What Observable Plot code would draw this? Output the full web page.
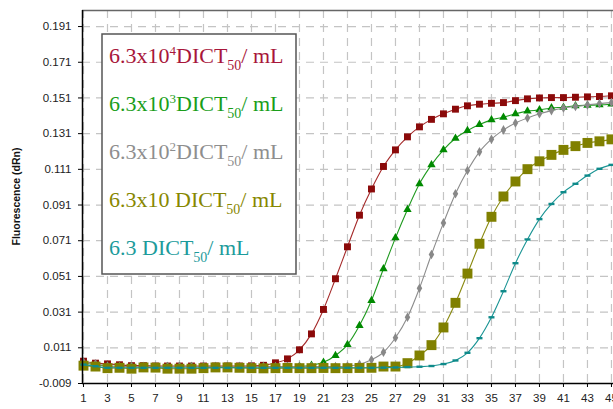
<!DOCTYPE html>
<html>
<head>
<meta charset="utf-8">
<script src="https://cdn.jsdelivr.net/npm/d3@7"></script>
<script src="https://cdn.jsdelivr.net/npm/@observablehq/plot@0.6"></script>
<style>
  body { margin: 0; background: #fff; }
  #wrap { position: relative; width: 613px; height: 409px; overflow: hidden; }
</style>
</head>
<body>
<div id="wrap"></div>
<script>
// ---- data ----
const cycles = d3.range(1, 46);
const red = [0.0035,0.0024,0.0020,0.0015,0.0010,0.0010,0.0008,0.0008,0.0008,0.0008,0.0008,0.0008,0.0008,0.0008,0.0009,0.0012,0.0026,0.0048,0.0099,0.0188,0.0325,0.0497,0.0676,0.0853,0.1000,0.1126,0.1219,0.1292,0.1348,0.1390,0.1421,0.1447,0.1466,0.1475,0.1480,0.1484,0.1495,0.1505,0.1510,0.1512,0.1512,0.1514,0.1516,0.1518,0.1522];
const green = [0.0025,0.0015,0.0008,0.0006,0.0005,0.0005,0.0005,0.0005,0.0005,0.0005,0.0005,0.0005,0.0005,0.0005,0.0005,0.0005,0.0005,0.0005,0.0006,0.0012,0.0029,0.0067,0.0128,0.0235,0.0375,0.0553,0.0726,0.0885,0.1029,0.1135,0.1219,0.1284,0.1327,0.1361,0.1387,0.1402,0.1421,0.1436,0.1443,0.1454,0.1458,0.1466,0.1469,0.1471,0.1475];
const gray = [0.0030,0.0020,0.0008,0.0005,0.0005,0.0005,0.0005,0.0005,0.0005,0.0005,0.0005,0.0005,0.0005,0.0005,0.0005,0.0005,0.0005,0.0005,0.0005,0.0005,0.0005,0.0005,0.0008,0.0018,0.0043,0.0085,0.0166,0.0281,0.0444,0.0633,0.0810,0.0973,0.1103,0.1208,0.1279,0.1331,0.1370,0.1398,0.1421,0.1439,0.1454,0.1462,0.1471,0.1479,0.1484];
const olive = [0.0010,0.0005,-0.0004,-0.0002,-0.0007,0.0000,-0.0001,-0.0007,-0.0007,-0.0007,-0.0004,0.0000,0.0000,-0.0002,-0.0004,-0.0005,-0.0004,-0.0003,-0.0004,-0.0004,-0.0003,-0.0004,-0.0004,-0.0003,-0.0002,0.0005,0.0005,0.0024,0.0067,0.0125,0.0224,0.0362,0.0526,0.0693,0.0844,0.0958,0.1042,0.1111,0.1155,0.1191,0.1219,0.1240,0.1258,0.1267,0.1278];
const teal = [0.0016,0.0007,-0.0002,-0.0002,-0.0002,-0.0002,-0.0002,-0.0002,-0.0002,-0.0002,-0.0002,-0.0002,-0.0002,-0.0002,-0.0002,-0.0002,-0.0002,-0.0002,-0.0002,-0.0002,-0.0002,-0.0002,-0.0002,-0.0002,-0.0002,-0.0001,0.0000,0.0002,0.0004,0.0008,0.0019,0.0039,0.0082,0.0164,0.0281,0.0427,0.0584,0.0717,0.0831,0.0916,0.0982,0.1029,0.1075,0.1113,0.1135];

const xTicks = d3.range(1, 46, 2);
const yTicks = [-0.009, 0.011, 0.031, 0.051, 0.071, 0.091, 0.111, 0.131, 0.151, 0.171, 0.191];
const xDomain = [0.917, 45.17];
const yDomain = [-0.009, 0.2];
const yTitle = "Fluorescence (dRn)";

const legendMain = ["6.3x10", "6.3x10", "6.3x10", "6.3x10 ", "6.3 "];
const legendExp = ["4", "3", "2", "", ""];
const legendColors = ["#a8163a", "#1a9e1a", "#8e8e8e", "#878700", "#1c9b9b"];

// ---- styling ----
const W = 613, H = 409, mL = 82, mT = 10, mB = 26;
const tealBar = { draw(ctx) { ctx.rect(-3, -1.2, 6, 2.4); } };
const seriesDefs = [
  { values: red,   color: "#8b0a0a", line: "#a52a2a", symbol: "square",   r: 3.9 },
  { values: green, color: "#008a00", line: "#1f9a1f", symbol: "triangle", r: 3.1 },
  { values: gray,  color: "#888888", line: "#8c8c8c", symbol: "diamond",  r: 2.9 },
  { values: olive, color: "#808000", line: "#8a8a10", symbol: "square",   r: 5.6 },
  { values: teal,  color: "#0e8a8a", line: "#1a9494", symbol: tealBar,    r: 3 }
];

const marks = [
  Plot.gridX(xTicks, { stroke: "#c4c4c4", strokeOpacity: 1, strokeWidth: 1.2, strokeDasharray: "8,6" }),
  Plot.gridY(yTicks, { stroke: "#c4c4c4", strokeOpacity: 1, strokeWidth: 1.2, strokeDasharray: "8,6" }),
  Plot.ruleY([yDomain[1]], { stroke: "#666", strokeWidth: 1.5 }),
  Plot.axisX(xTicks, { tickSize: 4, tickPadding: 6, fontSize: 11.5, label: null, stroke: "#000", fill: "#222" }),
  Plot.axisY(yTicks, { tickSize: 4, tickPadding: 7, fontSize: 11.5, label: null, tickFormat: d => d.toFixed(3), stroke: "#000", fill: "#222" })
];

for (const s of seriesDefs) {
  const data = cycles.map((c, i) => ({ c, v: s.values[i] }));
  marks.push(Plot.line(data, { x: "c", y: "v", stroke: s.line, strokeWidth: 1.1, curve: "monotone-x" }));
  marks.push(Plot.dot(data, { x: "c", y: "v", symbol: s.symbol, r: s.r, fill: s.color, stroke: "none" }));
}
marks.push(Plot.ruleX([xDomain[0]], { stroke: "#000", strokeWidth: 1.5 }));
marks.push(Plot.ruleY([yDomain[0]], { stroke: "#000", strokeWidth: 1.5 }));

const chart = Plot.plot({
  width: W,
  height: H,
  marginLeft: mL,
  marginRight: 0,
  marginTop: mT,
  marginBottom: mB,
  x: { domain: xDomain },
  y: { domain: yDomain },
  style: { fontFamily: "'Liberation Sans', Arial, sans-serif", fontSize: "11px", color: "#222", background: "#fff" },
  marks
});
document.getElementById("wrap").appendChild(chart);

const svg = d3.select(chart);

// ---- y-axis title ----
svg.append("text")
  .attr("transform", `translate(20,${(mT + H - mB) / 2}) rotate(-90)`)
  .attr("text-anchor", "middle")
  .attr("font-family", "'Liberation Sans', Arial, sans-serif")
  .attr("font-weight", "bold")
  .attr("font-size", 10.5)
  .attr("fill", "#111")
  .text(yTitle);

// ---- legend (inside plot area) ----
const lg = svg.append("g")
  .attr("font-family", "'Liberation Serif', 'Times New Roman', serif")
  .attr("text-anchor", "start");
lg.append("rect").attr("x", 102).attr("y", 34).attr("width", 194).attr("height", 240)
  .attr("fill", "#fff").attr("stroke", "#555").attr("stroke-width", 1.5);
legendMain.forEach((m, i) => {
  const t = lg.append("text").attr("x", 109).attr("y", 63 + 48 * i)
    .attr("fill", legendColors[i]).attr("font-size", 22).attr("text-anchor", "start");
  t.append("tspan").text(m);
  if (legendExp[i]) {
    t.append("tspan").attr("font-size", 13).attr("dy", -8).text(legendExp[i]);
    t.append("tspan").attr("dy", 8).text("DICT");
  } else {
    t.append("tspan").text("DICT");
  }
  t.append("tspan").attr("font-size", 14).attr("dy", 7).text("50");
  t.append("tspan").attr("dy", -7).text("/ mL");
});
</script>
</body>
</html>
